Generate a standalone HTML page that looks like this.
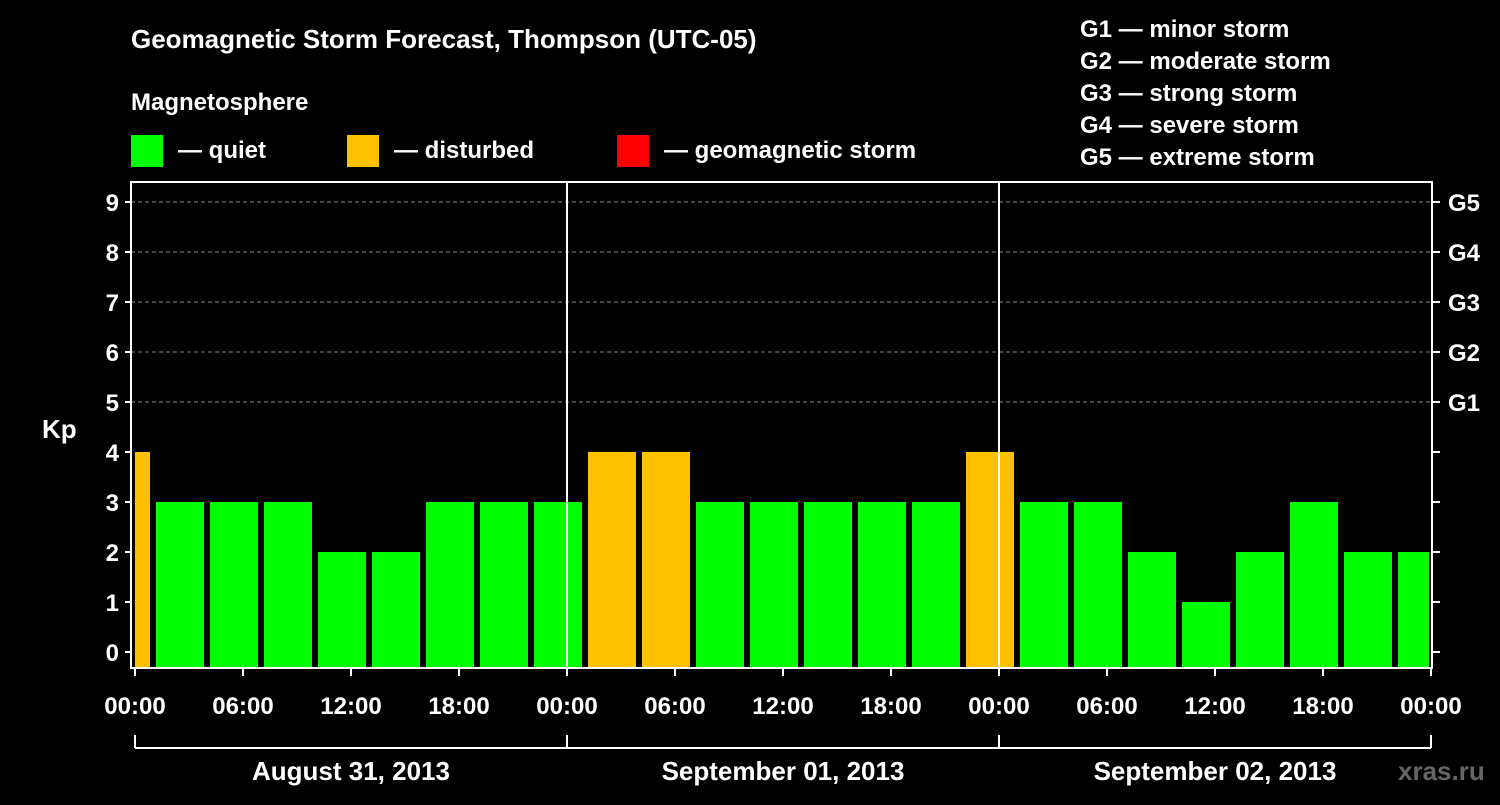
<!DOCTYPE html>
<html><head><meta charset="utf-8"><style>
body{margin:0;background:#000;width:1500px;height:800px;overflow:hidden}
svg text{font-family:"Liberation Sans",sans-serif;font-weight:bold;fill:#fff}
</style></head><body>
<svg id="chart" width="1500" height="800" xmlns="http://www.w3.org/2000/svg">
<rect width="1500" height="800" fill="#000"/>
<text x="131" y="48" font-size="26">Geomagnetic Storm Forecast, Thompson (UTC-05)</text>
<text x="131" y="110" font-size="24">Magnetosphere</text>
<g><rect x="131" y="135" width="32" height="32" fill="#00ff00"/><text x="178" y="158" font-size="24">— quiet</text></g>
<g><rect x="347" y="135" width="32" height="32" fill="#ffc000"/><text x="394" y="158" font-size="24">— disturbed</text></g>
<g><rect x="617" y="135" width="32" height="32" fill="#ff0000"/><text x="664" y="158" font-size="24">— geomagnetic storm</text></g>
<g font-size="24">
<text x="1080" y="37">G1 — minor storm</text>
<text x="1080" y="69">G2 — moderate storm</text>
<text x="1080" y="101">G3 — strong storm</text>
<text x="1080" y="133">G4 — severe storm</text>
<text x="1080" y="165">G5 — extreme storm</text>
</g>
<g id="grid"></g><g id="bars"></g><g id="axes"></g>
<text x="42" y="438" font-size="26">Kp</text>
<text x="1398" y="780" font-size="26" style="fill:#666">xras.ru</text>
</svg>
<script>
const kpValues=[4,3,3,3,2,2,3,3,3,4,4,3,3,3,3,3,4,3,3,2,1,2,3,2,2];
const barHours=[-0.5,2.5,5.5,8.5,11.5,14.5,17.5,20.5,23.5,26.5,29.5,32.5,35.5,38.5,41.5,44.5,47.5,50.5,53.5,56.5,59.5,62.5,65.5,68.5,71.5];
const yTicks=[0,1,2,3,4,5,6,7,8,9];
const gLabels=["G1","G2","G3","G4","G5"];
const xTickLabels=["00:00","06:00","12:00","18:00","00:00","06:00","12:00","18:00","00:00","06:00","12:00","18:00","00:00"];
const dayLabels=["August 31, 2013","September 01, 2013","September 02, 2013"];
const NS="http://www.w3.org/2000/svg";
const L=131,R=1432,T=182,B=668,X0=135,X1=1431;
const x=h=>X0+(X1-X0)*h/72;
const y=v=>652-50*v;
function mk(tag,attrs,parent,txt){const e=document.createElementNS(NS,tag);for(const k in attrs)e.setAttribute(k,attrs[k]);if(txt!==undefined)e.textContent=txt;parent.appendChild(e);return e;}
const grid=document.getElementById('grid'),bars=document.getElementById('bars'),axes=document.getElementById('axes');
for(let i=5;i<=9;i++){const g=mk('line',{x1:L,x2:R,y1:y(i),y2:y(i),stroke:'#888','stroke-dasharray':'4,3','stroke-width':1},grid);

}
const bw=48*(X1-X0)/1296;
kpValues.forEach((v,i)=>{let cx=x(barHours[i]);let a=Math.max(cx-bw/2,X0),b=Math.min(cx+bw/2,R-3);
const r=mk('rect',{x:a,y:y(v),width:b-a,height:B-y(v),fill:v>=5?'#ff0000':(v>=4?'#ffc000':'#00ff00')},bars);

});
for(let d=1;d<3;d++){const l=mk('line',{x1:x(24*d),x2:x(24*d),y1:T,y2:B,stroke:'#fff','stroke-width':2},axes);

}
const frame=mk('rect',{x:L,y:T,width:R-L,height:B-T,fill:'none',stroke:'#fff','stroke-width':2},axes);


yTicks.forEach(v=>{mk('line',{x1:L-6,x2:L,y1:y(v),y2:y(v),stroke:'#fff','stroke-width':2},axes);
mk('line',{x1:R,x2:R+8,y1:y(v),y2:y(v),stroke:'#fff','stroke-width':2},axes);
const t=mk('text',{x:L-12,y:y(v)+9,'font-size':24,'text-anchor':'end'},axes,String(v));

});
gLabels.forEach((g,i)=>{const t=mk('text',{x:1448,y:y(5+i)+9,'font-size':24},axes,g);

});
xTickLabels.forEach((s,i)=>{const xx=x(i*6);mk('line',{x1:xx,x2:xx,y1:B,y2:B+8,stroke:'#fff','stroke-width':2},axes);
const t=mk('text',{x:xx,y:714,'font-size':24,'text-anchor':'middle'},axes,s);

});
mk('line',{x1:X0,x2:X1,y1:748,y2:748,stroke:'#fff','stroke-width':2},axes);
for(let d=0;d<=3;d++)mk('line',{x1:x(24*d),x2:x(24*d),y1:735,y2:748,stroke:'#fff','stroke-width':2},axes);
dayLabels.forEach((s,i)=>{const t=mk('text',{x:x(24*i+12),y:780,'font-size':26,'text-anchor':'middle'},axes,s);

});
</script>
</body></html>
